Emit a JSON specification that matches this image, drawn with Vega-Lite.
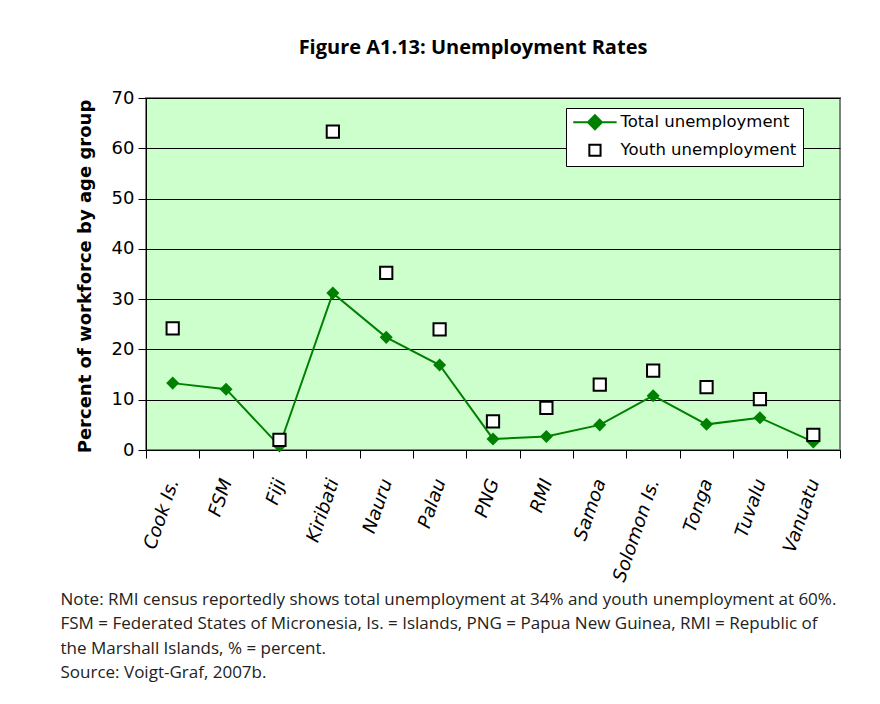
{
  "$schema": "https://vega.github.io/schema/vega-lite/v6.json",
  "autosize": "none",
  "width": 694,
  "height": 352,
  "padding": {"left": 146, "top": 98, "right": 40, "bottom": 254},
  "background": "#ffffff",
  "title": {
    "text": "Figure A1.13: Unemployment Rates",
    "font": "Open Sans",
    "fontSize": 20,
    "fontWeight": "bold",
    "color": "#000000",
    "anchor": "middle",
    "frame": "group",
    "dx": -20,
    "offset": 31
  },
  "data": {
    "values": [
      {"country": "Cook Is.", "series": "Total unemployment", "value": 13.3},
      {"country": "FSM", "series": "Total unemployment", "value": 12.1},
      {"country": "Fiji", "series": "Total unemployment", "value": 0.8},
      {"country": "Kiribati", "series": "Total unemployment", "value": 31.2},
      {"country": "Nauru", "series": "Total unemployment", "value": 22.4},
      {"country": "Palau", "series": "Total unemployment", "value": 16.9},
      {"country": "PNG", "series": "Total unemployment", "value": 2.2},
      {"country": "RMI", "series": "Total unemployment", "value": 2.7},
      {"country": "Samoa", "series": "Total unemployment", "value": 5.0},
      {"country": "Solomon Is.", "series": "Total unemployment", "value": 10.8},
      {"country": "Tonga", "series": "Total unemployment", "value": 5.1},
      {"country": "Tuvalu", "series": "Total unemployment", "value": 6.4},
      {"country": "Vanuatu", "series": "Total unemployment", "value": 1.6},
      {"country": "Cook Is.", "series": "Youth unemployment", "value": 24.2},
      {"country": "Fiji", "series": "Youth unemployment", "value": 2.0},
      {"country": "Kiribati", "series": "Youth unemployment", "value": 63.3},
      {"country": "Nauru", "series": "Youth unemployment", "value": 35.2},
      {"country": "Palau", "series": "Youth unemployment", "value": 24.0},
      {"country": "PNG", "series": "Youth unemployment", "value": 5.7},
      {"country": "RMI", "series": "Youth unemployment", "value": 8.4},
      {"country": "Samoa", "series": "Youth unemployment", "value": 13.0},
      {"country": "Solomon Is.", "series": "Youth unemployment", "value": 15.8},
      {"country": "Tonga", "series": "Youth unemployment", "value": 12.5},
      {"country": "Tuvalu", "series": "Youth unemployment", "value": 10.1},
      {"country": "Vanuatu", "series": "Youth unemployment", "value": 3.0}
    ]
  },
  "encoding": {
    "x": {
      "field": "country",
      "type": "nominal",
      "sort": null,
      "scale": {"paddingInner": 0, "paddingOuter": 0},
      "axis": {
        "title": [
          "Note: RMI census reportedly shows total unemployment at 34% and youth unemployment at 60%.",
          "FSM = Federated States of Micronesia, Is. = Islands, PNG = Papua New Guinea, RMI = Republic of",
          "the Marshall Islands, % = percent.",
          "Source: Voigt-Graf, 2007b."
        ],
        "titleFont": "Open Sans",
        "titleFontSize": 17,
        "titleFontWeight": "normal",
        "titleColor": "#222222",
        "titleAlign": "left",
        "titleAnchor": "start",
        "titleBaseline": "top",
        "titleX": -86,
        "titleY": 141,
        "titleLineHeight": 24.5,
        "labelAngle": -71,
        "labelFont": "DejaVu Sans",
        "labelFontSize": 18.5,
        "labelFontStyle": "italic",
        "labelColor": "#000000",
        "labelPadding": 21,
        "labelOverlap": false,
        "labelLimit": 300,
        "tickBand": "extent",
        "tickSize": 8,
        "tickColor": "#000000",
        "domainColor": "#000000",
        "grid": false
      }
    },
    "y": {
      "field": "value",
      "type": "quantitative",
      "scale": {"domain": [0, 70], "nice": false},
      "axis": {
        "title": "Percent of workforce by age group",
        "titleFont": "DejaVu Sans",
        "titleFontSize": 18,
        "titleFontWeight": "bold",
        "titleColor": "#000000",
        "titleX": -61,
        "titleY": 178,
        "titleAngle": -90,
        "titleAlign": "center",
        "titleBaseline": "middle",
        "values": [0, 10, 20, 30, 40, 50, 60, 70],
        "labelFont": "DejaVu Sans",
        "labelFontSize": 18,
        "labelColor": "#000000",
        "labelPadding": 4,
        "tickSize": 8,
        "tickColor": "#000000",
        "domainColor": "#000000",
        "grid": true,
        "gridColor": "#000000",
        "gridWidth": 1
      }
    }
  },
  "layer": [
    {
      "transform": [{"filter": "datum.series === 'Total unemployment'"}],
      "mark": {"type": "line", "color": "#008000", "strokeWidth": 2}
    },
    {
      "transform": [{"filter": "datum.series === 'Total unemployment'"}],
      "mark": {"type": "point", "shape": "diamond", "filled": true, "color": "#008000", "size": 170, "opacity": 1}
    },
    {
      "transform": [{"filter": "datum.series === 'Youth unemployment'"}],
      "mark": {"type": "point", "shape": "square", "filled": false, "fill": "#ffffff", "stroke": "#000000", "strokeWidth": 2, "size": 150, "opacity": 1, "fillOpacity": 1}
    },
    {
      "mark": {"type": "point", "opacity": 0, "strokeWidth": 2},
      "encoding": {
        "shape": {
          "field": "series",
          "type": "nominal",
          "scale": {
            "domain": ["Total unemployment", "Youth unemployment"],
            "range": ["M-1,0H5.2M2.1,-1L3.1,0L2.1,1L1.1,0Z", "M1.3,-0.8H2.9V0.8H1.3Z"]
          },
          "legend": {
            "title": null,
            "orient": "none",
            "legendX": 420,
            "legendY": 10,
            "fillColor": "#ffffff",
            "strokeColor": "#000000",
            "padding": 6,
            "symbolSize": 196,
            "symbolOpacity": 1,
            "symbolStrokeWidth": 2,
            "labelOffset": 32,
            "labelFont": "DejaVu Sans",
            "labelFontSize": 16.5,
            "labelLimit": 400,
            "labelColor": "#000000",
            "rowPadding": 6
          }
        },
        "fill": {
          "field": "series",
          "type": "nominal",
          "scale": {"domain": ["Total unemployment", "Youth unemployment"], "range": ["#008000", "#ffffff"]}
        },
        "stroke": {
          "field": "series",
          "type": "nominal",
          "scale": {"domain": ["Total unemployment", "Youth unemployment"], "range": ["#008000", "#000000"]}
        }
      }
    }
  ],
  "config": {
    "view": {"fill": "#ccffcc", "stroke": "#808080", "strokeWidth": 2},
    "axis": {"labelFont": "DejaVu Sans"}
  }
}
